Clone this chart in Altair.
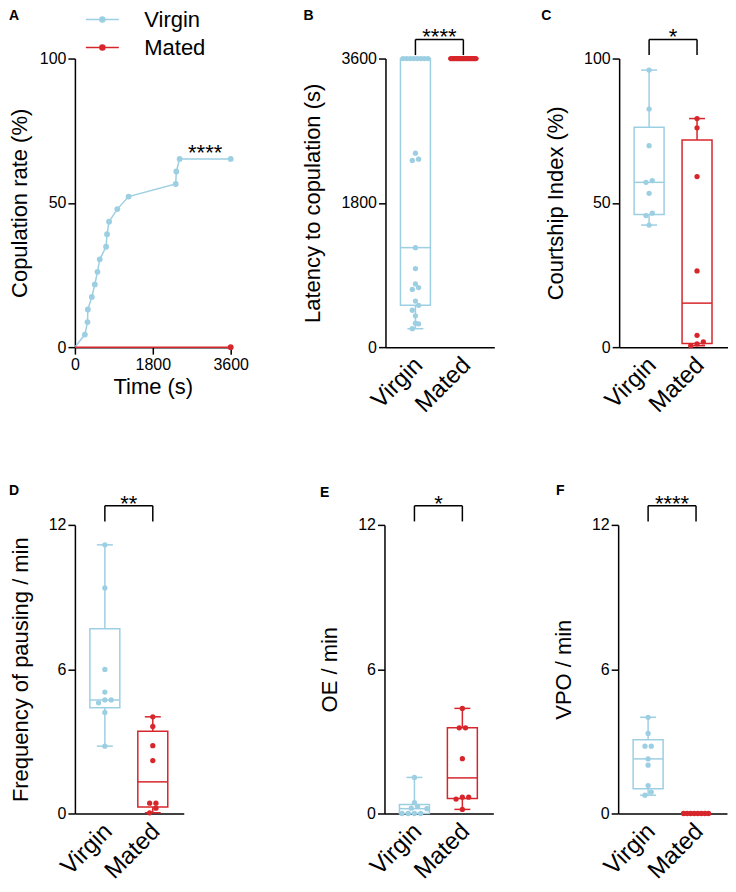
import altair as alt
import numpy as np
import pandas as pd

BLUE = "#9DCFE3"
RED = "#D7262B"
FONT = "Liberation Sans"
GROUPS = ["Virgin", "Mated"]

# ---- data ----
# Latency to copulation (s); 3600 = no copulation within the 1 h test
virgin_latency = [230, 291, 299, 391, 460, 521, 574, 720, 743, 789, 980, 1241,
                  2329, 2344, 2420, 3600, 3600, 3600, 3600, 3600, 3600, 3600, 3600]
mated_latency = [3600] * 20

courtship_virgin = [42.3, 45.6, 46.4, 53.3, 57.1, 57.7, 69.8, 82.5, 96.0]
courtship_mated = [0.5, 1.1, 1.8, 4.1, 26.4, 59.1, 76.0, 79.2]

pausing_virgin = [2.80, 4.20, 4.60, 4.72, 4.72, 5.05, 5.99, 9.38, 11.17]
pausing_mated = [0.03, 0.22, 0.43, 0.43, 2.20, 2.82, 3.62, 4.02]

oe_virgin = [0, 0, 0, 0, 0.20, 0.22, 0.30, 0.45, 1.50]
oe_mated = [0.17, 0.60, 0.68, 0.68, 2.28, 3.56, 3.56, 4.37]

vpo_virgin = [0.76, 0.89, 1.16, 2.01, 2.27, 2.80, 2.80, 3.33, 4.00]
vpo_mated = [0, 0, 0, 0, 0, 0, 0, 0]

# ---- layout constants ----
W_BOX, W_A, H = 109, 156, 289
X_DOMAIN = [0.375, 2.646]
XPX = W_BOX / (X_DOMAIN[1] - X_DOMAIN[0])
color_scale = alt.Scale(domain=GROUPS, range=[BLUE, RED])


def swarm(vals, ypx, thresh=5.0, step=6.3, half=12.5):
    vals = np.asarray(vals, float)
    order = np.argsort(vals, kind="stable")
    offs = np.zeros(len(vals))
    clusters, cur = [], [order[0]]
    for idx in order[1:]:
        if (vals[idx] - vals[cur[0]]) * ypx < thresh:
            cur.append(idx)
        else:
            clusters.append(cur)
            cur = [idx]
    clusters.append(cur)
    for c in clusters:
        k = len(c)
        if k > 1:
            s = min(step, 2 * half / (k - 1))
            for i, idx in enumerate(c):
                offs[idx] = (i - (k - 1) / 2) * s
    return offs


def letter_layer(letter, pos):
    return alt.Chart(pd.DataFrame({"t": [letter]})).mark_text(
        fontSize=14, fontWeight="bold", align="center", baseline="middle", color="black"
    ).encode(text="t:N", x=alt.value(pos[0]), y=alt.value(pos[1]))


def box_panel(vir, mat, ymax, ytitle, stars, letter, lpos, tp=16):
    ypx = H / ymax
    pts, stats = [], []
    for gi, (g, vals) in enumerate(zip(GROUPS, [vir, mat])):
        c = gi + 1
        offs = swarm(vals, ypx)
        for v, o in zip(vals, offs):
            pts.append({"group": g, "xpos": c + o / XPX, "value": v})
        q1, med, q3 = np.percentile(vals, [25, 50, 75], method="weibull")
        stats.append({"group": g, "c": c, "bl": c - 15 / XPX, "br": c + 15 / XPX,
                      "cl": c - 8 / XPX, "cr": c + 8 / XPX, "lo": min(vals),
                      "q1": q1, "med": med, "q3": q3, "hi": max(vals)})
    pts = pd.DataFrame(pts)
    stats = pd.DataFrame(stats)

    xax = alt.Axis(values=[1, 2], labelExpr="datum.value == 1 ? 'Virgin' : 'Mated'",
                   title=None, ticks=False, labelAngle=-45, labelAlign="right",
                   labelBaseline="middle", labelFontSize=24, labelPadding=14,
                   labelOffset=3, labelOverlap=False, labelFlush=False)
    yax = alt.Axis(values=[0, ymax / 2, ymax], format="d", title=ytitle, titlePadding=tp)
    xs = alt.Scale(domain=X_DOMAIN, nice=False, zero=False)
    ys = alt.Scale(domain=[0, ymax], nice=False)

    def X(f):
        return alt.X(f, type="quantitative", scale=xs, axis=xax)

    def Y(f):
        return alt.Y(f, type="quantitative", scale=ys, axis=yax)

    col = alt.Color("group:N", scale=color_scale, legend=None)
    base = alt.Chart(stats)
    box = base.mark_rect(filled=False, strokeWidth=1.5).encode(
        x=X("bl"), x2="br", y=Y("q1"), y2="q3", color=col)
    median = base.mark_rule(strokeWidth=1.5).encode(x=X("bl"), x2="br", y=Y("med"), color=col)
    wlo = base.mark_rule(strokeWidth=1.5).encode(x=X("c"), y=Y("lo"), y2="q1", color=col)
    whi = base.mark_rule(strokeWidth=1.5).encode(x=X("c"), y=Y("q3"), y2="hi", color=col)
    clo = base.mark_rule(strokeWidth=1.5).encode(x=X("cl"), x2="cr", y=Y("lo"), color=col)
    chi = base.mark_rule(strokeWidth=1.5).encode(x=X("cl"), x2="cr", y=Y("hi"), color=col)
    dots = alt.Chart(pts).mark_circle(size=28, opacity=1).encode(
        x=X("xpos"), y=Y("value"), color=col)

    top, leg = ymax * 1.066, ymax * 1.012
    br = pd.DataFrame({"x1": [1], "x2": [2], "top": [top], "xm": [1.5], "s": [stars]})
    legs = pd.DataFrame({"x": [1, 2], "top": [top, top], "leg": [leg, leg]})
    rule_top = alt.Chart(br).mark_rule(color="black", strokeWidth=1.5).encode(
        x=X("x1"), x2="x2", y=Y("top"))
    rule_legs = alt.Chart(legs).mark_rule(color="black", strokeWidth=1.5).encode(
        x=X("x"), y=Y("top"), y2="leg")
    star_txt = alt.Chart(br).mark_text(fontSize=22, baseline="alphabetic", dy=5,
                                       color="black").encode(
        x=X("xm"), y=Y("top"), text="s:N")
    return alt.layer(box, median, wlo, whi, clo, chi, dots, rule_top, rule_legs, star_txt,
                     letter_layer(letter, lpos)).properties(width=W_BOX, height=H)


# ---- panel A: cumulative copulation rate ----
n_v = len(virgin_latency)
cop_times = sorted(t for t in virgin_latency if t < 3600)
curve = [{"series": "Virgin", "time": 0, "pct": 0.0}]
for i, t in enumerate(cop_times):
    curve.append({"series": "Virgin", "time": t, "pct": (i + 1) / n_v * 100})
curve.append({"series": "Virgin", "time": 3600, "pct": len(cop_times) / n_v * 100})
n_m = len(mated_latency)
m_cop = sorted(t for t in mated_latency if t < 3600)
curve.append({"series": "Mated", "time": 0, "pct": 0.0})
curve.append({"series": "Mated", "time": 3600, "pct": len(m_cop) / n_m * 100})
curve = pd.DataFrame(curve)

SYMBOL = ("M-1.65,0L1.65,0M0.25,0A0.25,0.25,0,1,1,-0.25,0A0.25,0.25,0,1,1,0.25,0"
          "M0.1,0A0.1,0.1,0,1,1,-0.1,0A0.1,0.1,0,1,1,0.1,0")
leg = alt.Legend(orient="none", legendX=10, legendY=-50, title=None, symbolType=SYMBOL,
                 symbolSize=400, symbolStrokeWidth=1.5, symbolOffset=6.5, labelOffset=31,
                 labelFontSize=22, labelFont=FONT, labelColor="black", rowPadding=6, padding=0)
ax_x = alt.Axis(values=[0, 1800, 3600], format="d", title="Time (s)", titlePadding=4)
ax_y = alt.Axis(values=[0, 50, 100], format="d", title="Copulation rate (%)", titlePadding=8)
xa = alt.X("time:Q", scale=alt.Scale(domain=[0, 3600], nice=False), axis=ax_x)
ya = alt.Y("pct:Q", scale=alt.Scale(domain=[0, 100], nice=False), axis=ax_y)
ca = alt.Color("series:N", scale=color_scale, legend=leg)
lineA = alt.Chart(curve).mark_line(strokeWidth=1.5).encode(x=xa, y=ya, color=ca)
ptsA = alt.Chart(curve).transform_filter("datum.time > 0").mark_circle(
    size=34, opacity=1).encode(x=xa, y=ya, color=ca)
starA = pd.DataFrame({"time": [(cop_times[-1] + 3600) / 2],
                      "pct": [len(cop_times) / n_v * 100], "s": ["****"]})
starA_txt = alt.Chart(starA).mark_text(fontSize=22, baseline="alphabetic", dy=1,
                                       color="black").encode(x=xa, y=ya, text="s:N")
panelA = alt.layer(lineA, ptsA, starA_txt, letter_layer("A", (-61, -43))).properties(
    width=W_A, height=H)

panelB = box_panel(virgin_latency, mated_latency, 3600, "Latency to copulation (s)",
                   "****", "B", (-77, -43))
panelC = box_panel(courtship_virgin, courtship_mated, 100, "Courtship Index (%)",
                   "*", "C", (-73, -43))
panelD = box_panel(pausing_virgin, pausing_mated, 12, "Frequency of pausing / min",
                   "**", "D", (-61, -34))
panelE = box_panel(oe_virgin, oe_mated, 12, "OE / min", "*", "E", (-60, -32))
panelF = box_panel(vpo_virgin, vpo_mated, 12, "VPO / min", "****", "F", (-58, -34))

row1 = alt.hconcat(panelA, alt.hconcat(panelB, panelC, spacing=125, bounds="flush"),
                   spacing=155, bounds="flush")
row2 = alt.hconcat(panelD, alt.hconcat(panelE, panelF, spacing=125, bounds="flush"),
                   spacing=201, bounds="flush")

chart = alt.vconcat(row1, row2, spacing=67).properties(
    padding={"left": 0, "top": 0, "right": 0, "bottom": 0}
).configure(font=FONT).configure_view(stroke=None).configure_axis(
    domainColor="black", domainWidth=1.5, tickColor="black", tickWidth=1.5, tickSize=7,
    labelColor="black", labelFontSize=16, labelFont=FONT, titleFont=FONT,
    titleFontSize=22, titleFontWeight="normal", titleColor="black", grid=False,
    labelPadding=2, titlePadding=16, labelFlush=False
)

chart.save("out.html", embed_options={"renderer": "svg", "actions": False})
